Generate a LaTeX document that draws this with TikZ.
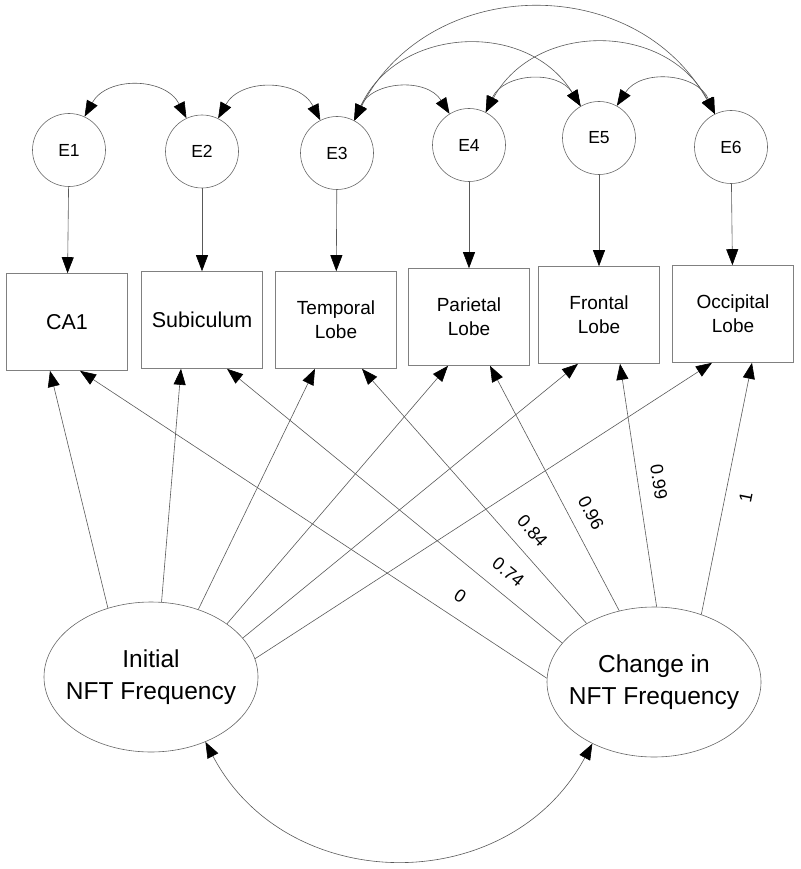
\documentclass[tikz,border=0pt]{standalone}
\usepackage{fontspec}
\setmainfont{Liberation Sans}
\usetikzlibrary{arrows.meta,shapes.geometric}
\def\twolines#1#2{\makebox[0pt]{\begin{tabular}{@{}c@{}}#1\\#2\end{tabular}}}

\begin{document}
\begin{tikzpicture}[x=1pt, y=1pt,
		>={Triangle[length=16pt, width=12pt, color=black]},
		err/.style={circle, draw=black!60, line width=0.6pt, minimum size=73pt, inner sep=0pt, font=\fontsize{17.5}{20}\selectfont},
		obs/.style={rectangle, draw=black!50, line width=0.6pt, minimum width=121pt, minimum height=97pt, inner sep=0pt, align=center, font=\fontsize{19}{24}\selectfont},
		lat/.style={ellipse, draw=black!60, line width=0.6pt, minimum width=214pt, minimum height=150pt, inner sep=0pt, font=\fontsize{24.5}{32}\selectfont},
		reg/.style={->, draw=black!65, line width=0.6pt},
		cov/.style={<->, draw=black!65, line width=0.6pt, bend left=62, looseness=1.16},
		wt/.style={sloped, inner sep=0pt, font=\fontsize{18}{20}\selectfont}]
			%%%%% START %%%%%
			
			\useasboundingbox (0, 0) rectangle (800, -869);
			
			% error terms
			\node[err] (E1) at (69, -150) {E1};
			\node[err] (E2) at (202, -151.5) {E2};
			\node[err] (E3) at (337, -153) {E3};
			\node[err] (E4) at (469, -145) {E4};
			\node[err] (E5) at (599, -138) {E5};
			\node[err] (E6) at (731, -147) {E6};
			
			% regions
			\node[obs, font=\fontsize{21.5}{26}\selectfont] (CA1) at (67, -322) {CA1};
			\node[obs, font=\fontsize{21.5}{26}\selectfont] (Sub) at (202, -320) {Subiculum};
			\node[obs] (Temp) at (336, -320) {Temporal\\Lobe};
			\node[obs] (Par) at (469, -317) {Parietal\\Lobe};
			\node[obs] (Front) at (599, -315) {Frontal\\Lobe};
			\node[obs] (Occ) at (733, -314) {Occipital\\Lobe};
			
			% growth factors
			\node[lat] (Init) at (151, -677) {\twolines{Initial}{NFT Frequency}};
			\node[lat] (Change) at (654, -682) {\twolines{Change in}{NFT Frequency}};
			
			\draw[reg] (E1) -- (CA1);
			\draw[reg] (E2) -- (Sub);
			\draw[reg] (E3) -- (Temp);
			\draw[reg] (E4) -- (Par);
			\draw[reg] (E5) -- (Front);
			\draw[reg] (E6) -- (Occ);
			
			\draw[cov] (E1.65) to (E2.115);
			\draw[cov] (E2.64) to (E3.117);
			\draw[cov] (E3.62) to (E4.122);
			\draw[cov] (E3.62) to (E5.120);
			\draw[cov] (E3.62) to (E6.116);
			\draw[cov] (E4.63) to (E5.120);
			\draw[cov] (E4.63) to (E6.116);
			\draw[cov] (E5.61) to (E6.116);
			
			\draw[reg] (Init.122) -- ([xshift=-17pt]CA1.south);
			\draw[reg] (Init.82) -- ([xshift=-21pt]Sub.south);
			\draw[reg] (Init.55) -- ([xshift=-21pt]Temp.south);
			\draw[reg] (Init.35) -- ([xshift=-21pt]Par.south);
			\draw[reg] (Init.23) -- ([xshift=-21pt]Front.south);
			\draw[reg] (Init.10) -- ([xshift=-21pt]Occ.south);
			
			\draw[reg] (Change.178) -- node[wt, pos=0.21, above=14pt] {0} ([xshift=13pt]CA1.south);
			\draw[reg] (Change.157) -- node[wt, pos=0.2, above=14pt] {0.74} ([xshift=25pt]Sub.south);
			\draw[reg] (Change.139) -- node[wt, pos=0.31, above=14pt] {0.84} ([xshift=26pt]Temp.south);
			\draw[reg] (Change.116) -- node[wt, pos=0.36, above=14pt] {0.96} ([xshift=21pt]Par.south);
			\draw[reg] (Change.88) -- node[wt, pos=0.5, above=14pt] {0.99} ([xshift=21pt]Front.south);
			\draw[reg] (Change.55) -- node[wt, pos=0.48, below=14pt] {1} ([xshift=19pt]Occ.south);
			
			\draw[cov, bend right=62] (Init.-50) to (Change.-135);
			
			%%%%% END %%%%%
\end{tikzpicture}
\end{document}
